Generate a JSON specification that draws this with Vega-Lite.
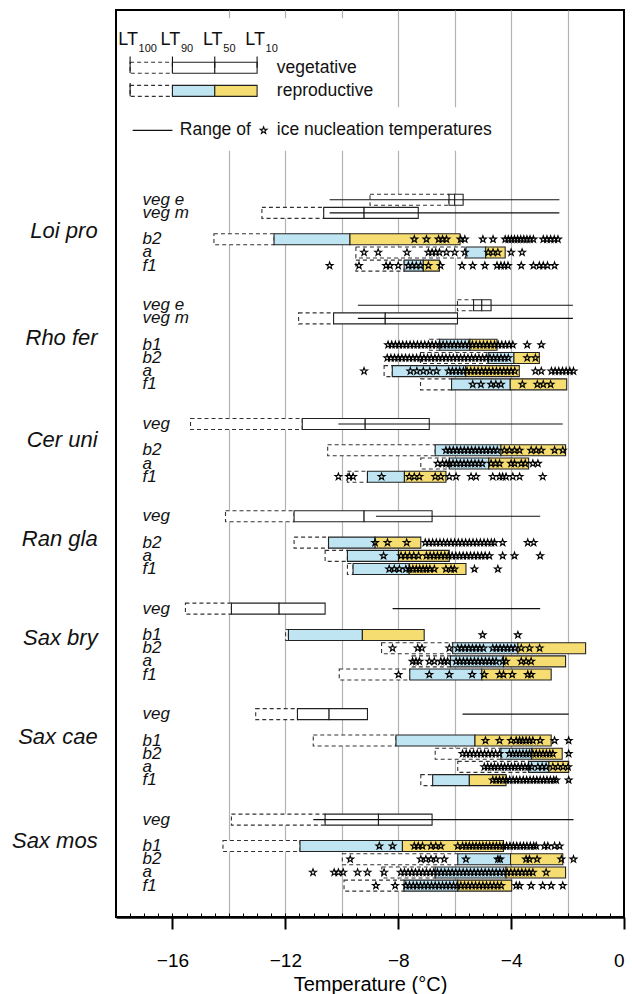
{
  "$schema": "https://vega.github.io/schema/vega-lite/v6.json",
  "width": 508,
  "height": 907,
  "autosize": {"type": "none"},
  "padding": {"left": 116, "top": 10, "right": 8, "bottom": 77},
  "background": "white",
  "config": {
    "view": {"stroke": "black", "strokeWidth": 2},
    "font": "Liberation Sans",
    "text": {"font": "Liberation Sans"}
  },
  "resolve": {"axis": {"x": "independent"}},
  "datasets": {
    "boxes": [
      {"sp": "legend", "lab": "", "y": 12.8, "type": "veg", "lt100": -17.5, "lt90": -16, "lt50": -14.5, "lt10": -13, "ice": []},
      {"sp": "legend", "lab": "", "y": 12.45, "type": "rep", "lt100": -17.5, "lt90": -16, "lt50": -14.5, "lt10": -13, "ice": []},
      {"sp": "Loi pro", "lab": "veg e", "y": 10.8, "type": "veg", "lt100": -9.0, "lt90": -6.2, "lt50": -6.0, "lt10": -5.7, "rmin": -10.43, "rmax": -2.29, "ice": []},
      {"sp": "Loi pro", "lab": "veg m", "y": 10.6, "type": "veg", "lt100": -12.83, "lt90": -10.64, "lt50": -9.21, "lt10": -7.29, "rmin": -10.43, "rmax": -2.29, "ice": []},
      {"sp": "Loi pro", "lab": "b2", "y": 10.2, "type": "rep", "lt100": -14.53, "lt90": -12.4, "lt50": -9.71, "lt10": -5.81, "ice": [-7.43, -7.0, -6.57, -6.43, -6.29, -5.79, -5.64, -5.0, -4.64, -4.21, -4.1, -3.99, -3.88, -3.77, -3.66, -3.55, -3.44, -3.33, -3.21, -2.86, -2.73, -2.6, -2.47, -2.34]},
      {"sp": "Loi pro", "lab": "a", "y": 10.0, "type": "rep", "lt100": -9.5, "lt90": -5.6, "lt50": -4.9, "lt10": -4.21, "ice": [-9.21, -8.71, -7.69, -6.93, -6.8, -6.67, -6.54, -6.29, -6.0, -5.64, -4.81, -4.64, -4.47, -4.0, -3.61]},
      {"sp": "Loi pro", "lab": "f1", "y": 9.8, "type": "rep", "lt100": -9.5, "lt90": -7.79, "lt50": -7.11, "lt10": -6.54, "ice": [-10.43, -9.39, -8.43, -8.29, -8.0, -7.64, -7.5, -7.36, -7.21, -6.93, -6.5, -5.74, -5.36, -4.93, -4.5, -4.36, -4.24, -4.11, -3.64, -3.21, -3.0, -2.86, -2.71, -2.46]},
      {"sp": "Rho fer", "lab": "veg e", "y": 9.2, "type": "veg", "lt100": -5.9, "lt90": -5.33, "lt50": -5.04, "lt10": -4.71, "rmin": -9.43, "rmax": -1.81, "ice": []},
      {"sp": "Rho fer", "lab": "veg m", "y": 9.0, "type": "veg", "lt100": -11.53, "lt90": -10.29, "lt50": -8.46, "lt10": -5.9, "rmin": -9.43, "rmax": -1.81, "ice": []},
      {"sp": "Rho fer", "lab": "b1", "y": 8.6, "type": "rep", "lt100": -6.89, "lt90": -6.53, "lt50": -5.46, "lt10": -4.5, "ice": [-8.36, -8.23, -8.1, -7.97, -7.84, -7.71, -7.58, -7.45, -7.32, -7.19, -7.06, -6.93, -6.8, -6.67, -6.54, -6.41, -6.28, -6.15, -6.02, -5.89, -5.76, -5.63, -5.5, -5.37, -5.24, -5.11, -4.98, -4.85, -4.72, -4.59, -4.46, -4.33, -4.2, -4.07, -3.94, -3.43, -2.93]},
      {"sp": "Rho fer", "lab": "b2", "y": 8.4, "type": "rep", "lt100": -7.21, "lt90": -4.81, "lt50": -3.9, "lt10": -3.0, "ice": [-8.39, -8.26, -8.13, -8.0, -7.87, -7.74, -7.61, -7.48, -7.35, -7.22, -7.09, -6.96, -6.83, -6.7, -6.57, -6.44, -6.31, -6.18, -6.05, -5.92, -5.79, -5.66, -5.53, -5.4, -5.27, -5.14, -5.01, -4.88, -4.75, -4.62, -4.49, -4.36, -4.23, -4.1, -3.43, -3.14]},
      {"sp": "Rho fer", "lab": "a", "y": 8.2, "type": "rep", "lt100": -8.5, "lt90": -8.21, "lt50": -5.61, "lt10": -3.71, "ice": [-9.21, -7.57, -7.34, -7.11, -6.88, -6.64, -6.21, -6.08, -5.95, -5.82, -5.69, -5.56, -5.43, -5.3, -5.17, -5.04, -4.91, -4.78, -4.65, -4.52, -4.39, -4.26, -4.13, -4.0, -3.87, -3.14, -2.93, -2.57, -2.44, -2.31, -2.18, -2.05, -1.92, -1.79]},
      {"sp": "Rho fer", "lab": "f1", "y": 8.0, "type": "rep", "lt100": -7.21, "lt90": -6.11, "lt50": -4.03, "lt10": -2.03, "ice": [-5.36, -5.07, -4.71, -4.54, -4.36, -3.6, -3.07, -2.86, -2.6]},
      {"sp": "Cer uni", "lab": "veg", "y": 7.4, "type": "veg", "lt100": -15.36, "lt90": -11.4, "lt50": -9.17, "lt10": -6.9, "rmin": -10.12, "rmax": -2.17, "ice": []},
      {"sp": "Cer uni", "lab": "b2", "y": 7.0, "type": "rep", "lt100": -10.5, "lt90": -6.69, "lt50": -4.36, "lt10": -2.07, "ice": [-6.31, -6.18, -6.05, -5.92, -5.79, -5.66, -5.53, -5.4, -5.27, -5.14, -5.01, -4.88, -4.75, -4.62, -4.49, -4.24, -4.06, -3.88, -3.7, -3.29, -3.11, -2.93, -2.46, -2.17]},
      {"sp": "Cer uni", "lab": "a", "y": 6.8, "type": "rep", "lt100": -7.2, "lt90": -6.19, "lt50": -4.79, "lt10": -3.38, "ice": [-6.6, -6.43, -6.3, -6.19, -6.06, -5.93, -5.8, -5.67, -5.54, -5.41, -5.28, -5.15, -5.02, -4.71, -4.55, -4.41, -4.0, -3.88, -3.64, -3.5, -3.23, -3.05]},
      {"sp": "Cer uni", "lab": "f1", "y": 6.6, "type": "rep", "lt100": -9.8, "lt90": -9.09, "lt50": -7.78, "lt10": -6.31, "ice": [-10.12, -9.74, -9.6, -8.59, -7.61, -7.43, -7.25, -6.69, -6.49, -6.19, -5.95, -5.42, -5.24, -4.65, -4.41, -4.3, -4.18, -3.94, -3.7, -2.88]},
      {"sp": "Ran gla", "lab": "veg", "y": 6.0, "type": "veg", "lt100": -14.12, "lt90": -11.69, "lt50": -9.21, "lt10": -6.8, "rmin": -8.79, "rmax": -2.97, "ice": []},
      {"sp": "Ran gla", "lab": "b2", "y": 5.6, "type": "rep", "lt100": -11.69, "lt90": -10.47, "lt50": -8.82, "lt10": -7.2, "ice": [-8.82, -8.38, -7.7, -7.04, -6.91, -6.78, -6.65, -6.52, -6.39, -6.26, -6.13, -6.0, -5.87, -5.74, -5.61, -5.48, -5.35, -5.22, -5.09, -4.96, -4.83, -4.7, -4.59, -4.3, -3.41, -3.2]},
      {"sp": "Ran gla", "lab": "a", "y": 5.4, "type": "rep", "lt100": -10.59, "lt90": -9.8, "lt50": -7.99, "lt10": -6.19, "ice": [-8.52, -7.9, -7.75, -7.6, -7.45, -7.28, -7.0, -6.87, -6.74, -6.61, -6.48, -6.35, -6.22, -6.09, -5.96, -5.83, -5.7, -5.57, -5.44, -5.31, -5.18, -5.05, -4.92, -4.77, -4.3, -3.88, -2.97]},
      {"sp": "Ran gla", "lab": "f1", "y": 5.2, "type": "rep", "lt100": -9.8, "lt90": -9.6, "lt50": -7.61, "lt10": -5.6, "ice": [-8.32, -8.14, -7.96, -7.73, -7.6, -7.48, -7.36, -7.24, -7.12, -7.0, -6.88, -6.72, -6.31, -6.13, -6.01, -5.3, -4.47]},
      {"sp": "Sax bry", "lab": "veg", "y": 4.6, "type": "veg", "lt100": -15.54, "lt90": -13.91, "lt50": -12.22, "lt10": -10.59, "rmin": -8.2, "rmax": -2.97, "ice": []},
      {"sp": "Sax bry", "lab": "b1", "y": 4.2, "type": "rep", "lt100": -11.99, "lt90": -11.89, "lt50": -9.27, "lt10": -7.08, "ice": [-5.01, -3.76]},
      {"sp": "Sax bry", "lab": "b2", "y": 4.0, "type": "rep", "lt100": -8.59, "lt90": -6.07, "lt50": -3.76, "lt10": -1.36, "ice": [-8.2, -7.31, -7.16, -6.19, -5.89, -5.76, -5.63, -5.5, -5.37, -5.24, -5.11, -4.98, -4.65, -4.52, -4.39, -4.26, -4.13, -4.0, -3.87, -3.64, -3.35, -2.99]},
      {"sp": "Sax bry", "lab": "a", "y": 3.8, "type": "rep", "lt100": -7.51, "lt90": -6.15, "lt50": -4.27, "lt10": -2.07, "ice": [-7.49, -7.37, -7.25, -6.9, -6.72, -6.49, -6.37, -6.25, -5.95, -5.82, -5.69, -5.56, -5.43, -5.3, -5.17, -5.04, -4.91, -4.78, -4.65, -4.53, -4.3, -4.18, -3.64, -3.47, -3.29]},
      {"sp": "Sax bry", "lab": "f1", "y": 3.6, "type": "rep", "lt100": -10.09, "lt90": -7.59, "lt50": -5.04, "lt10": -2.58, "ice": [-7.99, -6.9, -6.19, -5.38, -4.95, -4.41, -4.27, -3.96, -3.41, -3.29]},
      {"sp": "Sax cae", "lab": "veg", "y": 3.0, "type": "veg", "lt100": -13.05, "lt90": -11.57, "lt50": -10.45, "lt10": -9.09, "rmin": -5.72, "rmax": -1.96, "ice": []},
      {"sp": "Sax cae", "lab": "b1", "y": 2.6, "type": "rep", "lt100": -11.01, "lt90": -8.08, "lt50": -5.28, "lt10": -2.58, "ice": [-4.91, -4.41, -4.0, -3.82, -3.7, -3.59, -3.47, -3.35, -3.23, -2.97, -2.46, -1.96]},
      {"sp": "Sax cae", "lab": "b2", "y": 2.4, "type": "rep", "lt100": -6.69, "lt90": -4.36, "lt50": -3.27, "lt10": -2.19, "ice": [-5.72, -5.59, -5.46, -5.33, -5.2, -5.07, -4.94, -4.81, -4.68, -4.55, -4.41, -4.06, -3.94, -3.82, -3.7, -3.58, -3.46, -3.35, -3.23, -3.11, -2.99, -2.87, -2.75, -2.63, -2.52, -1.96]},
      {"sp": "Sax cae", "lab": "a", "y": 2.2, "type": "rep", "lt100": -5.89, "lt90": -3.38, "lt50": -2.66, "lt10": -1.96, "ice": [-4.95, -4.83, -4.71, -4.59, -4.47, -4.35, -4.23, -4.11, -3.99, -3.87, -3.75, -3.63, -3.51, -3.39, -3.27, -3.05, -2.9, -2.76, -2.52, -2.34, -2.16, -1.98]},
      {"sp": "Sax cae", "lab": "f1", "y": 2.0, "type": "rep", "lt100": -7.2, "lt90": -6.78, "lt50": -5.48, "lt10": -4.18, "ice": [-4.65, -4.53, -4.41, -4.29, -4.17, -4.05, -3.93, -3.81, -3.69, -3.57, -3.45, -3.33, -3.21, -3.09, -2.97, -2.85, -2.73, -2.61, -2.49, -2.4, -1.96]},
      {"sp": "Sax mos", "lab": "veg", "y": 1.4, "type": "veg", "lt100": -13.91, "lt90": -10.59, "lt50": -8.7, "lt10": -6.8, "rmin": -11.01, "rmax": -1.79, "ice": []},
      {"sp": "Sax mos", "lab": "b1", "y": 1.0, "type": "rep", "lt100": -14.21, "lt90": -11.48, "lt50": -7.85, "lt10": -4.27, "ice": [-8.67, -8.2, -7.43, -7.29, -7.14, -6.84, -6.67, -6.49, -5.89, -5.72, -5.6, -5.48, -5.36, -5.24, -5.12, -5.0, -4.88, -4.76, -4.64, -4.52, -4.4, -4.28, -4.16, -4.04, -3.92, -3.8, -3.68, -3.56, -3.44, -3.32, -3.2, -3.11, -2.82, -2.7, -2.46, -2.28]},
      {"sp": "Sax mos", "lab": "b2", "y": 0.8, "type": "rep", "lt100": -9.98, "lt90": -5.89, "lt50": -4.02, "lt10": -2.17, "ice": [-9.7, -7.2, -7.02, -6.84, -6.66, -6.37, -5.6, -4.47, -4.39, -3.47, -3.35, -3.08, -2.22, -1.79]},
      {"sp": "Sax mos", "lab": "a", "y": 0.6, "type": "rep", "lt100": -8.58, "lt90": -6.69, "lt50": -4.18, "lt10": -2.07, "ice": [-11.02, -10.27, -10.12, -9.95, -9.44, -9.09, -8.5, -7.91, -7.78, -7.65, -7.52, -7.39, -7.26, -7.13, -7.0, -6.87, -6.74, -6.61, -6.48, -6.35, -6.22, -6.09, -5.96, -5.83, -5.7, -5.57, -5.44, -5.31, -5.18, -5.05, -4.92, -4.79, -4.66, -4.53, -4.4, -4.27, -4.14, -4.01, -3.88, -3.75, -3.62, -3.49, -3.36, -3.23, -2.76]},
      {"sp": "Sax mos", "lab": "f1", "y": 0.4, "type": "rep", "lt100": -9.92, "lt90": -7.79, "lt50": -5.89, "lt10": -3.98, "ice": [-8.79, -8.11, -7.73, -7.6, -7.47, -7.34, -7.21, -7.08, -6.95, -6.82, -6.69, -6.56, -6.43, -6.3, -6.17, -6.04, -5.91, -5.78, -5.65, -5.52, -5.39, -5.26, -5.13, -5.0, -4.87, -4.74, -4.61, -4.48, -4.35, -3.82, -3.7, -3.29, -2.88, -2.58, -2.17]}
    ],
    "species": [
      {"sp": "Loi pro", "y": 10.32},
      {"sp": "Rho fer", "y": 8.7},
      {"sp": "Cer uni", "y": 7.15},
      {"sp": "Ran gla", "y": 5.65},
      {"sp": "Sax bry", "y": 4.15},
      {"sp": "Sax cae", "y": 2.65},
      {"sp": "Sax mos", "y": 1.08}
    ],
    "mask": [
      {"x1": -17.8, "x2": -8.5, "y1": 11.54, "y2": 13.55},
      {"x1": -8.5, "x2": -4.4, "y1": 11.54, "y2": 12.2}
    ],
    "lticks": [
      {"x": -17.5, "y1": 12.72, "y2": 12.97},
      {"x": -16, "y1": 12.8, "y2": 12.97},
      {"x": -14.5, "y1": 12.8, "y2": 12.97},
      {"x": -13, "y1": 12.8, "y2": 12.97},
      {"x": -17.5, "y1": 12.37, "y2": 12.57}
    ],
    "lt": [
      {"x": -17.5, "sub": "100"},
      {"x": -16, "sub": "90"},
      {"x": -14.5, "sub": "50"},
      {"x": -13, "sub": "10"}
    ],
    "lwords": [
      {"x": -12.3, "y": 12.8, "text": "vegetative"},
      {"x": -12.3, "y": 12.45, "text": "reproductive"},
      {"x": -15.74, "y": 11.85, "text": "Range of"},
      {"x": -12.3, "y": 11.85, "text": "ice nucleation temperatures"}
    ],
    "lrange": [{"x1": -17.41, "x2": -16.0, "y": 11.85}],
    "lstar": [{"x": -12.77, "y": 11.85}]
  },
  "layer": [
    {
      "data": {"name": "mask"},
      "mark": {"type": "rect", "fill": "white", "strokeWidth": 0},
      "encoding": {
        "x": {
          "field": "x1", "type": "quantitative",
          "scale": {"domain": [-18, 0], "nice": false, "zero": false},
          "axis": {
            "orient": "bottom",
            "values": [-17.5, -17, -16.5, -16, -15.5, -15, -14.5, -14, -13.5, -13, -12.5, -12, -11.5, -11, -10.5, -10, -9.5, -9, -8.5, -8, -7.5, -7, -6.5, -6, -5.5, -5, -4.5, -4, -3.5, -3, -2.5, -2, -1.5, -1, -0.5],
            "labels": false, "domain": false, "title": null,
            "ticks": true, "tickSize": -4, "tickWidth": 1, "tickColor": "black",
            "grid": true, "gridColor": "#b3b3b3", "gridWidth": 1.2,
            "gridOpacity": {"condition": {"test": "datum.value >= -14 && datum.value <= -2 && datum.value % 2 === 0", "value": 1}, "value": 0}
          }
        },
        "x2": {"field": "x2"},
        "y": {
          "field": "y1", "type": "quantitative",
          "scale": {"domain": [0, 13.6], "nice": false, "zero": false},
          "axis": {
            "values": [1, 2, 3, 4, 5, 6, 7, 8, 9, 10, 11, 12, 13],
            "labels": false, "title": null, "grid": false,
            "ticks": true, "tickSize": -4, "tickWidth": 1, "tickColor": "black",
            "domain": true, "domainColor": "black", "domainWidth": 2.5
          }
        },
        "y2": {"field": "y2"}
      }
    },
    {
      "data": {"name": "boxes"},
      "mark": {"type": "bar", "size": 11, "fill": "white", "stroke": "#333333", "strokeWidth": 1.1, "strokeDash": [4, 3]},
      "encoding": {
        "x": {
          "field": "lt100", "type": "quantitative",
          "axis": {
            "orient": "bottom",
            "values": [-16, -12, -8, -4, 0],
            "grid": false,
            "domain": true, "domainColor": "black", "domainWidth": 2.5,
            "ticks": true, "tickSize": 12, "tickWidth": 2, "tickColor": "black",
            "labelFontSize": 19, "labelColor": "black", "labelPadding": 22, "labelFont": "Liberation Sans",
            "title": "Temperature (°C)", "titleFontSize": 20, "titleFontWeight": "normal", "titleColor": "black", "titlePadding": 4, "titleFont": "Liberation Sans"
          }
        },
        "x2": {"field": "lt90"},
        "y": {"field": "y", "type": "quantitative", "axis": null}
      }
    },
    {
      "data": {"name": "boxes"},
      "mark": {"type": "bar", "size": 11, "stroke": "#222222", "strokeWidth": 1.1},
      "encoding": {
        "x": {"field": "lt90", "type": "quantitative", "axis": null},
        "x2": {"field": "lt50"},
        "y": {"field": "y", "type": "quantitative", "axis": null},
        "fill": {"condition": {"test": "datum.type === 'rep'", "value": "#BFE4F2"}, "value": "white"}
      }
    },
    {
      "data": {"name": "boxes"},
      "mark": {"type": "bar", "size": 11, "stroke": "#222222", "strokeWidth": 1.1},
      "encoding": {
        "x": {"field": "lt50", "type": "quantitative", "axis": null},
        "x2": {"field": "lt10"},
        "y": {"field": "y", "type": "quantitative", "axis": null},
        "fill": {"condition": {"test": "datum.type === 'rep'", "value": "#F6DD72"}, "value": "white"}
      }
    },
    {
      "data": {"name": "boxes"},
      "transform": [{"filter": "isValid(datum.rmin)"}],
      "mark": {"type": "rule", "color": "#111111", "strokeWidth": 1.1},
      "encoding": {
        "x": {"field": "rmin", "type": "quantitative", "axis": null},
        "x2": {"field": "rmax"},
        "y": {"field": "y", "type": "quantitative", "axis": null}
      }
    },
    {
      "data": {"name": "boxes"},
      "transform": [{"flatten": ["ice"]}],
      "mark": {"type": "point", "shape": "M0,-1L0.235,-0.324L0.951,-0.309L0.38,0.124L0.588,0.809L0,0.4L-0.588,0.809L-0.38,0.124L-0.951,-0.309L-0.235,-0.324Z", "size": 50, "filled": false, "stroke": "black", "strokeWidth": 1.15, "opacity": 1},
      "encoding": {
        "x": {"field": "ice", "type": "quantitative", "axis": null},
        "y": {"field": "y", "type": "quantitative", "axis": null}
      }
    },
    {
      "data": {"name": "boxes"},
      "mark": {"type": "text", "align": "left", "baseline": "middle", "fontSize": 17, "fontStyle": "italic", "color": "#111111"},
      "encoding": {
        "x": {"datum": -17.06, "type": "quantitative", "axis": null},
        "y": {"field": "y", "type": "quantitative", "axis": null},
        "text": {"field": "lab"}
      }
    },
    {
      "data": {"name": "species"},
      "mark": {"type": "text", "align": "right", "baseline": "middle", "fontSize": 22, "fontStyle": "italic", "color": "#111111"},
      "encoding": {
        "x": {"datum": -18.65, "type": "quantitative", "axis": null},
        "y": {"field": "y", "type": "quantitative", "axis": null},
        "text": {"field": "sp"}
      }
    },
    {
      "data": {"name": "lticks"},
      "mark": {"type": "rule", "color": "#111111", "strokeWidth": 1.1},
      "encoding": {
        "x": {"field": "x", "type": "quantitative", "axis": null},
        "y": {"field": "y1", "type": "quantitative", "axis": null},
        "y2": {"field": "y2"}
      }
    },
    {
      "data": {"name": "lt"},
      "mark": {"type": "text", "align": "center", "baseline": "middle", "fontSize": 18, "dx": -2, "color": "#111111"},
      "encoding": {
        "x": {"field": "x", "type": "quantitative", "axis": null},
        "y": {"datum": 13.22, "type": "quantitative", "axis": null},
        "text": {"value": "LT"}
      }
    },
    {
      "data": {"name": "lt"},
      "mark": {"type": "text", "align": "left", "baseline": "middle", "fontSize": 11, "dx": 8.5, "color": "#111111"},
      "encoding": {
        "x": {"field": "x", "type": "quantitative", "axis": null},
        "y": {"datum": 13.08, "type": "quantitative", "axis": null},
        "text": {"field": "sub"}
      }
    },
    {
      "data": {"name": "lwords"},
      "mark": {"type": "text", "align": "left", "baseline": "middle", "fontSize": 17.5, "color": "#111111"},
      "encoding": {
        "x": {"field": "x", "type": "quantitative", "axis": null},
        "y": {"field": "y", "type": "quantitative", "axis": null},
        "text": {"field": "text"}
      }
    },
    {
      "data": {"name": "lrange"},
      "mark": {"type": "rule", "color": "#111111", "strokeWidth": 1.1},
      "encoding": {
        "x": {"field": "x1", "type": "quantitative", "axis": null},
        "x2": {"field": "x2"},
        "y": {"field": "y", "type": "quantitative", "axis": null}
      }
    },
    {
      "data": {"name": "lstar"},
      "mark": {"type": "point", "shape": "M0,-1L0.235,-0.324L0.951,-0.309L0.38,0.124L0.588,0.809L0,0.4L-0.588,0.809L-0.38,0.124L-0.951,-0.309L-0.235,-0.324Z", "size": 50, "filled": false, "stroke": "black", "strokeWidth": 1.15, "opacity": 1},
      "encoding": {
        "x": {"field": "x", "type": "quantitative", "axis": null},
        "y": {"field": "y", "type": "quantitative", "axis": null}
      }
    }
  ]
}
